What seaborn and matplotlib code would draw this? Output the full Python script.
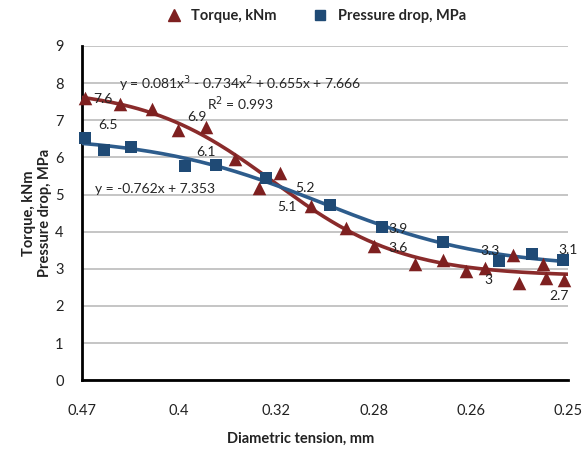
import numpy as np
import pandas as pd
import matplotlib
matplotlib.use("Agg")
import matplotlib.pyplot as plt
import seaborn as sns
from matplotlib.lines import Line2D

# Datos (x en unidades de intervalo entre marcas)
tick_labels = ["0.47", "0.4", "0.32", "0.28", "0.26", "0.25"]

torque_x = [0.03, 0.39, 0.72, 0.99, 1.28, 1.57, 1.82, 2.04, 2.36, 2.72,
            3.00, 3.43, 3.71, 3.95, 4.14, 4.43, 4.49, 4.74, 4.77, 4.96]
torque_y = [7.61, 7.43, 7.30, 6.74, 6.82, 5.95, 5.18, 5.57, 4.69, 4.09,
            3.61, 3.14, 3.25, 2.94, 3.03, 3.37, 2.62, 3.12, 2.76, 2.71]

pressure_x = [0.03, 0.23, 0.51, 1.06, 1.38, 1.89, 2.55, 3.09, 3.71, 4.29, 4.63, 4.95]
pressure_y = [6.53, 6.20, 6.29, 5.77, 5.79, 5.45, 4.72, 4.12, 3.73, 3.21, 3.39, 3.23]

value_labels = ["7.6", "6.5", "6.9", "6.1", "5.2", "5.1", "3.9", "3.6", "3.3", "3", "3.1", "2.7"]

RED = "#7E2020"
RED_LINE = "#8A2B2B"
BLUE = "#1F4A75"
BLUE_LINE = "#2D5C8C"

df_t = pd.DataFrame({"x": torque_x, "y": torque_y})
df_p = pd.DataFrame({"x": pressure_x, "y": pressure_y})


def sigmoid_trend(df):
    """Ajuste sigmoide (búsqueda en rejilla de k, x0 + mínimos cuadrados)."""
    x = df["x"].to_numpy()
    y = df["y"].to_numpy()
    best = None
    for k in np.linspace(0.3, 4.0, 75):
        for x0 in np.linspace(0.5, 4.5, 161):
            s = 1.0 / (1.0 + np.exp(k * (x - x0)))
            A = np.column_stack([np.ones_like(s), s])
            coef, *_ = np.linalg.lstsq(A, y, rcond=None)
            err = np.sum((A @ coef - y) ** 2)
            if best is None or err < best[0]:
                best = (err, k, x0, coef)
    _, k, x0, coef = best
    xs = np.linspace(0, 5, 200)
    ys = coef[0] + coef[1] / (1.0 + np.exp(k * (xs - x0)))
    return pd.DataFrame({"x": xs, "y": ys})


sns.set_style("white")
plt.rcParams["font.family"] = ["Lato", "DejaVu Sans"]

fig = plt.figure(figsize=(5.84, 4.5), dpi=100)
ax = fig.add_axes([0.14, 0.155, 0.833, 0.743])

sns.lineplot(data=sigmoid_trend(df_t), x="x", y="y", color=RED_LINE, lw=2.6, ax=ax, zorder=3)
sns.lineplot(data=sigmoid_trend(df_p), x="x", y="y", color=BLUE_LINE, lw=2.6, ax=ax, zorder=3)

sns.scatterplot(data=df_t, x="x", y="y", marker="^", s=95, color=RED,
                edgecolor=RED, linewidth=0, ax=ax, zorder=5, clip_on=False)
sns.scatterplot(data=df_p, x="x", y="y", marker="s", s=75, color=BLUE,
                edgecolor=BLUE, linewidth=0, ax=ax, zorder=5, clip_on=False)

ax.set_xlim(0, 5)
ax.set_ylim(0, 9)
ax.set_xticks(range(len(tick_labels)))
ax.set_xticklabels(tick_labels)
ax.set_yticks(range(10))
ax.yaxis.grid(True, color="#b5b5b5", lw=1.1)
ax.xaxis.grid(False)
for s in ["top", "right"]:
    ax.spines[s].set_visible(False)
for s in ["left", "bottom"]:
    ax.spines[s].set_color("black")
    ax.spines[s].set_linewidth(2)
ax.tick_params(axis="both", which="major", direction="out", length=5, width=1.5,
               color="black", labelsize=10.5, labelcolor="#222222")
ax.tick_params(axis="x", pad=12)
ax.tick_params(axis="y", pad=8)

ax.set_xlabel("Diametric tension, mm", fontsize=10.5, fontweight="bold",
              color="#222222")
ax.xaxis.set_label_coords(0.45, -0.155)
ax.set_ylabel("Torque, kNm\nPressure drop, MPa", fontsize=10.5, fontweight="bold",
              color="#222222", labelpad=2, linespacing=1.2)

# Ecuaciones y etiquetas de valores
ax.text(1.63, 7.97, "y = 0.081x$^3$ - 0.734x$^2$ + 0.655x + 7.666", ha="center",
        va="center", fontsize=10)
ax.text(1.63, 7.45, "R$^2$ = 0.993", ha="center", va="center", fontsize=10)
ax.text(0.14, 5.16, "y = -0.762x + 7.353", ha="left", va="center", fontsize=10)

label_pos = [(0.22, 7.57), (0.27, 6.86), (1.18, 7.09), (1.28, 6.15),
             (2.29, 5.18), (2.11, 4.66), (3.25, 4.08), (3.25, 3.55),
             (4.2, 3.48), (4.18, 2.71), (5.0, 3.5), (4.9, 2.26)]
for txt, (px, py) in zip(value_labels, label_pos):
    ax.text(px, py, txt, ha="center", va="center", fontsize=10, color="#222222",
            zorder=6, clip_on=False)

handles = [
    Line2D([], [], marker="^", color=RED, ls="none", markersize=8),
    Line2D([], [], marker="s", color=BLUE, ls="none", markersize=7),
]
fig.legend(handles, ["Torque, kNm", "Pressure drop, MPa"], loc="center",
           bbox_to_anchor=(0.535, 0.965), ncol=2, frameon=False,
           handletextpad=0.2, columnspacing=2.0,
           prop={"weight": "bold", "size": 10.5})

fig.savefig("out.png", dpi=100)
